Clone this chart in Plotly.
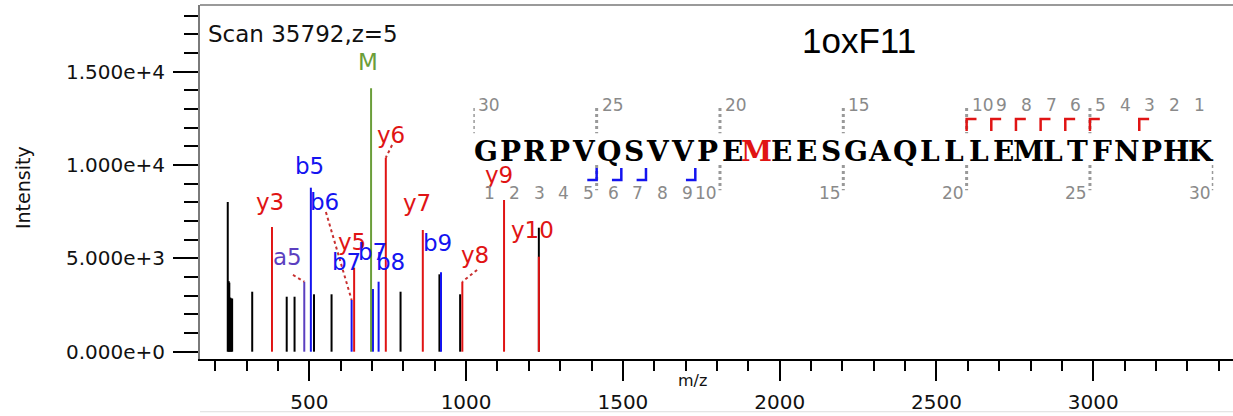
import plotly.graph_objects as go

# ---------------- data ----------------
other_mz = [240, 243, 245, 248, 251, 254, 318, 428, 453, 515, 571, 791, 915, 981, 1232]
other_int = [8020, 3780, 3700, 2900, 2850, 2850, 3214, 2946, 2946, 3075, 3075, 3214, 4146, 3075, 6643]

y_mz = [381, 643, 744, 862, 988, 1121, 1232]
y_int = [6680, 4500, 10393, 6520, 3750, 8127, 5089]

b_mz = [505, 635, 703, 721, 920]
b_int = [8786, 2770, 3360, 3750, 4254]

a_mz = [484]
a_int = [3750]

m_mz = [697]
m_int = [14110]

label_text = ["M", "y3", "b5", "b6", "a5", "y5", "b7", "b7", "b8", "y6", "y7", "b9", "y8", "y9", "y10"]
label_mz = [687, 375, 500, 550, 430, 635, 619, 703, 758, 760, 842, 908, 1028, 1106, 1213]
label_int = [15520, 8040, 9950, 8040, 5090, 5890, 4820, 5360, 4820, 11610, 7970, 5820, 5180, 9470, 6520]

# dotted leaders: (label end mz, label end int) -> peak (mz, int)
lead_from_mz = [448, 553, 764, 1035]
lead_from_int = [4110, 7480, 11070, 4380]
lead_to_mz = [484, 635, 744, 988]
lead_to_int = [3750, 2770, 10393, 3750]

y_tickvals = [0, 5000, 10000, 15000]
y_ticktext = ["0.000e+0", "5.000e+3", "1.000e+4", "1.500e+4"]
x_tickvals = [500, 1000, 1500, 2000, 2500, 3000]
x_ticktext = ["500", "1000", "1500", "2000", "2500", "3000"]

sequence = "GPRPVQSVVPEMEESGAQLLLEMLTFNPHK"
modified = [12]            # 1-based residue index shown in red
b_cov = [5, 6, 7, 9]       # b-ion boundaries observed
y_cov = [10, 9, 8, 7, 6, 5, 3]  # y-ion numbers observed

scan_text = "Scan 35792,z=5"
title_text = "1oxF11"

# ---------------- styles ----------------
RED = "#e01414"
BLUE = "#1414f0"
PURPLE = "#5b3fc0"
GREEN = "#6b9e3a"
BLACK = "#000000"
color_for = {"y": RED, "b": BLUE, "a": PURPLE, "M": GREEN}


def sticks(mz, inten):
    xs, ys = [], []
    for m, i in zip(mz, inten):
        xs += [m, m, None]
        ys += [0, i, None]
    return xs, ys


fig = go.Figure()
for mz, inten, col in [(other_mz, other_int, BLACK), (a_mz, a_int, PURPLE), (b_mz, b_int, BLUE),
                       (m_mz, m_int, GREEN), (y_mz, y_int, RED)]:
    xs, ys = sticks(mz, inten)
    fig.add_trace(go.Scatter(x=xs, y=ys, mode="lines", line=dict(color=col, width=2),
                             hoverinfo="skip", showlegend=False))

# dotted leaders
for x0, y0, x1, y1 in zip(lead_from_mz, lead_from_int, lead_to_mz, lead_to_int):
    fig.add_trace(go.Scatter(x=[x0, x1], y=[y0, y1], mode="lines",
                             line=dict(color="#c83030", width=2, dash="dot"),
                             hoverinfo="skip", showlegend=False))

annotations = []
for t, x, y in zip(label_text, label_mz, label_int):
    annotations.append(dict(x=x, y=y, xref="x", yref="y", text=t, showarrow=False,
                            font=dict(family="DejaVu Sans", size=23, color=color_for[t[0]]),
                            xanchor="center", yanchor="middle"))

# sequence letters
Y_LET = 0.586
for i, ch in enumerate(sequence):
    col = RED if (i + 1) in modified else BLACK
    annotations.append(dict(x=i + 0.5, y=Y_LET, xref="x2", yref="paper", text=ch, showarrow=False,
                            font=dict(family="DejaVu Serif", size=28, color=col, weight="bold"),
                            xanchor="center", yanchor="middle"))

n = len(sequence)
GRAY = "#8a8a8a"
# top numbers (y-ion numbering)
for k in range(0, n):
    num = n - k
    if num > 10 and num % 5 != 0:
        continue
    annotations.append(dict(x=k + 0.12, y=0.7175, xref="x2", yref="paper", text=str(num), showarrow=False,
                            font=dict(family="DejaVu Sans", size=17, color=GRAY),
                            xanchor="left", yanchor="middle"))
# bottom numbers (b-ion numbering)
for k in range(1, n + 1):
    if k > 10 and k % 5 != 0:
        continue
    annotations.append(dict(x=k - 0.03, y=0.469, xref="x2", yref="paper", text=str(k), showarrow=False,
                            font=dict(family="DejaVu Sans", size=17, color=GRAY),
                            xanchor="right", yanchor="middle"))

shapes = []
for k in range(0, n, 5):
    shapes.append(dict(type="line", xref="x2", yref="paper", x0=k, x1=k, y0=0.709, y1=0.638,
                       line=dict(color="#999999", width=3, dash="3px,3px")))
for k in range(5, n + 1, 5):
    shapes.append(dict(type="line", xref="x2", yref="paper", x0=k, x1=k, y0=0.548, y1=0.477,
                       line=dict(color="#999999", width=3, dash="3px,3px")))
for k in b_cov:
    shapes.append(dict(type="path", xref="x2", yref="paper",
                       path=f"M {k} 0.5395 L {k} 0.5056 L {k - 0.38} 0.5056",
                       line=dict(color=BLUE, width=2.5)))
for num in y_cov:
    k = n - num
    shapes.append(dict(type="path", xref="x2", yref="paper",
                       path=f"M {k} 0.644 L {k} 0.678 L {k + 0.4} 0.678",
                       line=dict(color=RED, width=2.5)))

# frame decorations
shapes.append(dict(type="line", xref="paper", yref="paper", x0=0, x1=1, y0=1, y1=1,
                   line=dict(color="#9a9a9a", width=2)))
shapes.append(dict(type="line", xref="paper", yref="paper", x0=0, x1=1, y0=-0.149, y1=-0.149,
                   line=dict(color="#dddddd", width=1)))

annotations.append(dict(x=0.0058, y=0.918, xref="paper", yref="paper", text=scan_text, showarrow=False,
                        font=dict(family="DejaVu Sans", size=23, color="#111111"),
                        xanchor="left", yanchor="middle"))
annotations.append(dict(x=0.638, y=0.901, xref="paper", yref="paper", text=title_text, showarrow=False,
                        font=dict(family="Liberation Sans", size=35, color="#000000"),
                        xanchor="center", yanchor="middle"))
annotations.append(dict(x=-0.1713, y=0.483, xref="paper", yref="paper", text="Intensity", showarrow=False,
                        textangle=-90, font=dict(family="DejaVu Sans", size=19, color="#111111"),
                        xanchor="center", yanchor="middle"))
annotations.append(dict(x=0.4763, y=-0.062, xref="paper", yref="paper", text="m/z", showarrow=False,
                        font=dict(family="DejaVu Sans", size=16, color="#111111"),
                        xanchor="center", yanchor="middle"))

fig.update_layout(
    width=1233, height=416,
    margin=dict(l=200, r=0, t=5, b=57, autoexpand=False),
    paper_bgcolor="white", plot_bgcolor="rgba(0,0,0,0)",
    showlegend=False,
    xaxis=dict(range=[151.5, 3445.5], showgrid=False, zeroline=False, automargin=False,
               showline=True, linecolor="black", linewidth=2, mirror=False,
               ticks="outside", ticklen=20, tickwidth=2, tickcolor="black",
               tickmode="array", tickvals=x_tickvals, ticktext=x_ticktext,
               tickfont=dict(family="DejaVu Sans", size=20, color="#111111"),
               ticklabelstandoff=4,
               minor=dict(tickmode="linear", tick0=0, dtick=100, ticks="outside",
                          ticklen=10, tickwidth=2, tickcolor="black", showgrid=False)),
    yaxis=dict(range=[-391, 18573], showgrid=False, zeroline=False, automargin=False,
               showline=True, linecolor="#7a7a7a", linewidth=2, mirror=False,
               ticks="outside", ticklen=25, tickwidth=2, tickcolor="black",
               tickmode="array", tickvals=y_tickvals, ticktext=y_ticktext,
               tickfont=dict(family="DejaVu Sans", size=20, color="#111111"),
               ticklabelstandoff=4,
               minor=dict(tickmode="linear", tick0=0, dtick=1000, ticks="outside",
                          ticklen=14, tickwidth=2, tickcolor="black", showgrid=False)),
    xaxis2=dict(domain=[0.2646, 0.9809], range=[0, 30], anchor="free", position=0,
                visible=False, showgrid=False, zeroline=False),
    annotations=annotations,
    shapes=shapes,
)

fig.write_html("out.html", config={"displayModeBar": False, "staticPlot": True},
               post_script="document.body.style.margin='0';document.body.style.overflow='hidden';"
                           "document.documentElement.style.overflow='hidden';")
